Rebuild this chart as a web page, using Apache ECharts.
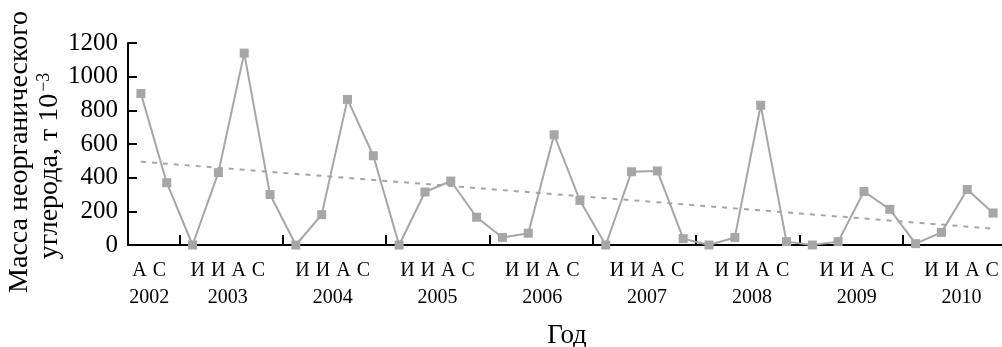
<!DOCTYPE html>
<html><head><meta charset="utf-8">
<script src="https://cdn.jsdelivr.net/npm/echarts@6/dist/echarts.min.js"></script>
<style>html,body{margin:0;padding:0;background:#fff}#c{width:1002px;height:347px}</style>
</head><body><div id="c"></div>
<script>
const years = ['2002','2003','2004','2005','2006','2007','2008','2009','2010'];
const months2002 = ['А','С'];
const monthsFull = ['И','И','А','С'];
const values = [
  900, 370,
  0, 430, 1140, 300,
  0, 180, 865, 530,
  0, 315, 380, 165,
  45, 70, 655, 265,
  0, 435, 440, 38,
  0, 45, 830, 20,
  0, 20, 318, 212,
  8, 75, 330, 190
];
const trendStart = 495;
const trendEnd = 97;
const yMin = 0, yMax = 1200, yInterval = 200;

const FONT = 'Liberation Serif';
const cats = [];
const boundaries = ['b0'];
const monthLabelAt = [''];
const yearLabelAt = [''];
years.forEach((y, yi) => {
  const ms = yi === 0 ? months2002 : monthsFull;
  const half = ms.length / 2;
  ms.forEach((m, i) => {
    cats.push(y + '-' + i);
    boundaries.push('b' + boundaries.length);
    const isMid = (i + 1) === half;
    monthLabelAt.push(isMid ? ms.map(c => '{l|' + c + '}').join('') : '');
    yearLabelAt.push(isMid ? y : '');
  });
});
const trend = cats.map(() => null);
trend[0] = trendStart;
trend[cats.length - 1] = trendEnd;

const chart = echarts.init(document.getElementById('c'), null, {renderer: 'canvas'});
chart.setOption({
  animation: false,
  backgroundColor: '#fff',
  grid: [
    {left: 128, top: 43, bottom: 102, right: -4, outerBoundsMode: 'none', containLabel: false},
    {left: 123, top: 43, bottom: 102, right: -12, outerBoundsMode: 'none', containLabel: false}
  ],
  xAxis: [{
    type: 'category', data: cats, position: 'bottom', gridIndex: 0,
    name: 'Год', nameLocation: 'middle', nameGap: 77, nameMoveOverlap: false,
    nameTextStyle: {fontFamily: FONT, fontSize: 27, color: '#000'},
    axisLine: {lineStyle: {color: '#000', width: 2}},
    axisTick: {show: true, inside: true, length: 10, lineStyle: {color: '#000', width: 2},
      interval: (i) => i >= 2 && (i - 2) % 4 === 0},
    axisLabel: {show: false},
    splitLine: {show: false}
  }, {
    type: 'category', data: boundaries, boundaryGap: false, position: 'bottom', gridIndex: 1,
    axisLine: {show: false}, axisTick: {show: false},
    axisLabel: {interval: 0, margin: 16, fontFamily: FONT, fontSize: 20, color: '#000',
      formatter: (v, i) => monthLabelAt[i],
      rich: {l: {fontFamily: FONT, fontSize: 20, color: '#000', padding: [0, 3, 0, 3]}}},
    splitLine: {show: false}
  }, {
    type: 'category', data: boundaries, boundaryGap: false, position: 'bottom', gridIndex: 1,
    axisLine: {show: false}, axisTick: {show: false},
    axisLabel: {interval: 0, margin: 43, fontFamily: FONT, fontSize: 20, color: '#000',
      formatter: (v, i) => yearLabelAt[i]},
    splitLine: {show: false}
  }],
  yAxis: [{
    type: 'value', min: yMin, max: yMax, interval: yInterval, gridIndex: 0,
    name: '{a|Масса неорганического}{p1|}\n{a|углерода, т 10}{s|−3}{p2|}',
    nameLocation: 'middle', nameRotate: 90, nameGap: 63, nameMoveOverlap: false,
    nameTextStyle: {fontFamily: FONT, fontSize: 28, color: '#000', lineHeight: 30,
      rich: {a: {fontFamily: FONT, fontSize: 28, color: '#000', lineHeight: 30},
             s: {fontFamily: FONT, fontSize: 18, color: '#000', lineHeight: 30, verticalAlign: 'top', padding: [0,0,10,2]},
             p1: {width: 16, lineHeight: 30},
             p2: {width: 44, lineHeight: 30}}},
    axisLine: {show: true, lineStyle: {color: '#000', width: 2}},
    axisTick: {show: true, inside: true, length: 9, lineStyle: {color: '#000', width: 2}},
    axisLabel: {margin: 10, fontFamily: FONT, fontSize: 25, color: '#000', formatter: (v) => String(v)},
    splitLine: {show: false}
  }, {
    type: 'value', gridIndex: 1, show: false, min: yMin, max: yMax
  }],
  series: [{
    type: 'line', data: values, xAxisIndex: 0, yAxisIndex: 0,
    symbol: 'rect', symbolSize: 9,
    lineStyle: {color: '#a6a6a6', width: 2},
    itemStyle: {color: '#a6a6a6'},
    z: 3
  }, {
    type: 'line', data: trend, xAxisIndex: 0, yAxisIndex: 0, connectNulls: true,
    symbol: 'none',
    lineStyle: {color: '#a6a6a6', width: 2, type: [5, 6]},
    z: 2
  }]
});
</script></body></html>
